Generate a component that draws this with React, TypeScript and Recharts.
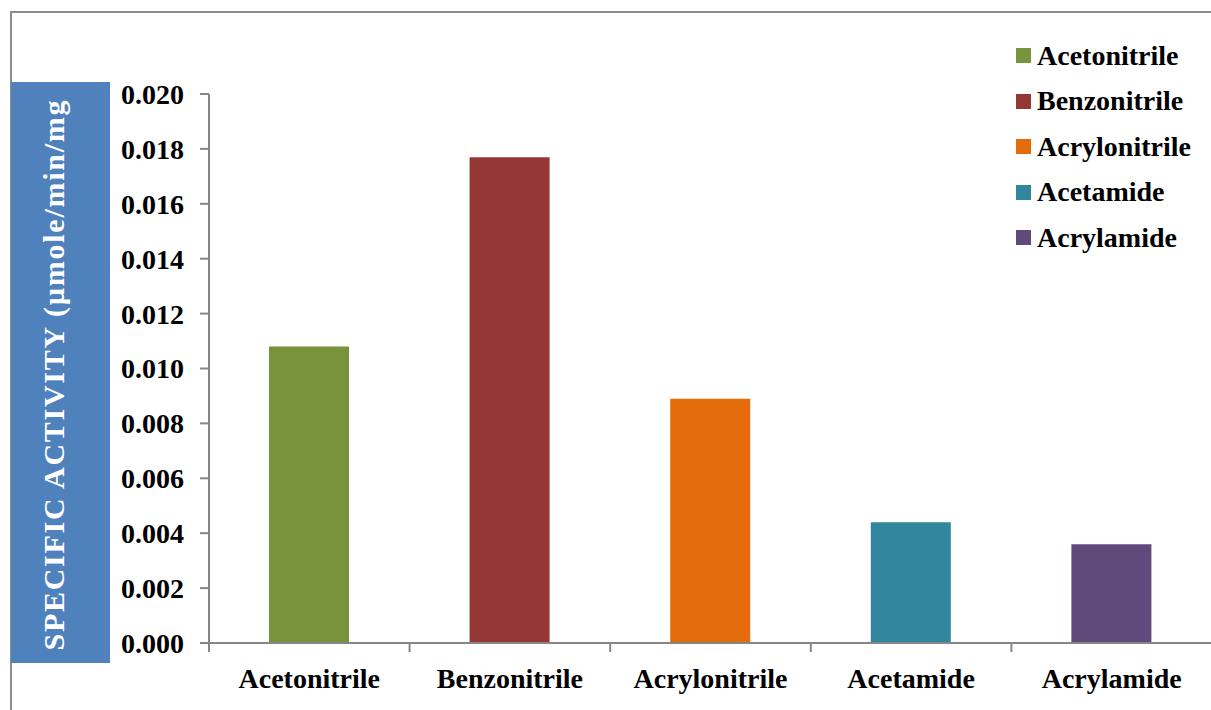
import React from 'react';
import { BarChart, Bar, XAxis, YAxis, Cell, Legend } from 'recharts';

// Specific activity of the enzyme towards each substrate
const substrates = ['Acetonitrile', 'Benzonitrile', 'Acrylonitrile', 'Acetamide', 'Acrylamide'];
const specificActivity = [0.0108, 0.0177, 0.0089, 0.0044, 0.0036];
const barColors = ['#77933C', '#953735', '#E46C0A', '#31859C', '#604A7B'];
const yTicks = [0, 0.002, 0.004, 0.006, 0.008, 0.01, 0.012, 0.014, 0.016, 0.018, 0.02];
const yAxisTitle = 'SPECIFIC ACTIVITY (\u00b5mole/min/mg';

const data = substrates.map((name, i) => ({ name, activity: specificActivity[i] }));

const SERIF = '"Liberation Serif", "Times New Roman", Times, serif';
const AXIS_GREY = '#868686';

// Category label with Excel-style tick marks on the band boundaries
const CategoryTick = (props: any) => {
  const { x, y, payload, index, visibleTicksCount, width } = props;
  const half = payload && payload.offset ? payload.offset : width / visibleTicksCount / 2;
  return (
    <g>
      <line x1={x - half} x2={x - half} y1={y} y2={y + 9} stroke={AXIS_GREY} strokeWidth={2} />
      {index === visibleTicksCount - 1 && (
        <line x1={x + half} x2={x + half} y1={y} y2={y + 9} stroke={AXIS_GREY} strokeWidth={2} />
      )}
      <text
        x={x}
        y={y + 45}
        textAnchor="middle"
        fill="#000"
        fontFamily={SERIF}
        fontWeight="bold"
        fontSize={28}
      >
        {payload.value}
      </text>
    </g>
  );
};

// Blue title block to the left of the value axis
const AxisTitle = (props: any) => {
  const vb = props.viewBox || { x: 0, y: 94, width: 209, height: 549 };
  const top = vb.y - 12;
  const height = vb.height + 32;
  const cx = vb.x + 64;
  const cy = vb.y + vb.height / 2 + 7;
  return (
    <g>
      <rect x={vb.x + 11} y={top} width={99} height={height} fill="#4F81BD" />
      <text
        x={cx}
        y={cy}
        transform={`rotate(-90, ${cx}, ${cy})`}
        textAnchor="middle"
        fill="#fff"
        fontFamily={SERIF}
        fontWeight="bold"
        fontSize={30}
        textLength={550}
        lengthAdjust="spacing"
      >
        {yAxisTitle}
      </text>
    </g>
  );
};

const LegendList = () => (
  <div style={{ fontFamily: SERIF, fontWeight: 'bold', fontSize: 28, color: '#000' }}>
    {substrates.map((s, i) => (
      <div key={s} style={{ display: 'flex', alignItems: 'center', height: 45.5 }}>
        <span
          style={{ display: 'inline-block', width: 15, height: 15, background: barColors[i], marginRight: 6 }}
        />
        <span style={{ lineHeight: '30px' }}>{s}</span>
      </div>
    ))}
  </div>
);

export default function App() {
  return (
    <div
      style={{
        position: 'absolute',
        left: 0,
        top: 0,
        width: 1211,
        height: 710,
        overflow: 'hidden',
        background: '#fff',
      }}
    >
      <div
        style={{
          position: 'absolute',
          left: 10,
          top: 11,
          width: 1230,
          height: 730,
          borderTop: '2px solid #8c8c8c',
          borderLeft: '2px solid #8c8c8c',
        }}
      />
      <div style={{ position: 'absolute', left: 0, top: 0 }}>
        <BarChart
          width={1215}
          height={710}
          data={data}
          margin={{ top: 94, right: 3, bottom: 0, left: 0 }}
        >
          <XAxis
            dataKey="name"
            height={67}
            tickSize={0}
            tickMargin={0}
            tickLine={false}
            interval={0}
            axisLine={{ stroke: AXIS_GREY, strokeWidth: 2 }}
            tick={<CategoryTick />}
          />
          <YAxis
            width={209}
            domain={[0, 0.02]}
            ticks={yTicks}
            interval={0}
            tickFormatter={(v: number) => v.toFixed(3)}
            tickSize={9}
            tickMargin={16}
            axisLine={{ stroke: AXIS_GREY, strokeWidth: 2 }}
            tickLine={{ stroke: AXIS_GREY, strokeWidth: 2 }}
            tick={{ fill: '#000', fontSize: 28, fontWeight: 'bold', fontFamily: SERIF }}
            label={{ content: (p: any) => <AxisTitle {...p} /> }}
          />
          <Legend
            layout="vertical"
            align="center"
            verticalAlign="middle"
            content={() => <LegendList />}
            wrapperStyle={{ position: 'absolute', left: 1016, top: 33, width: 200 }}
          />
          <Bar dataKey="activity" barSize={80} isAnimationActive={false}>
            {data.map((d, i) => (
              <Cell key={d.name} fill={barColors[i]} />
            ))}
          </Bar>
        </BarChart>
      </div>
    </div>
  );
}
